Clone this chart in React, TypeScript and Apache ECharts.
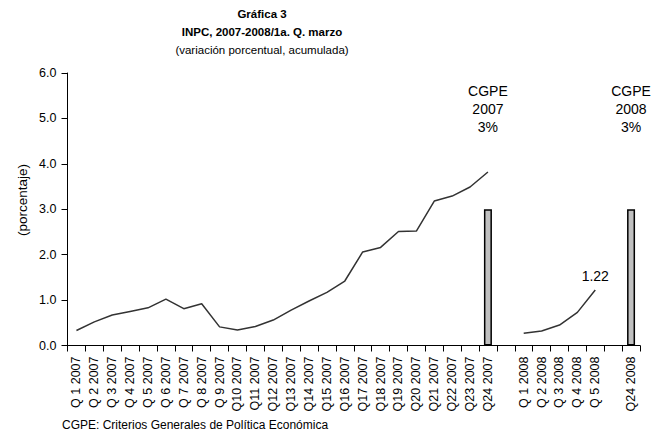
import React, { useEffect, useRef } from "react";
import * as echarts from "echarts";

const categories: string[] = [
  "Q 1 2007", "Q 2 2007", "Q 3 2007", "Q 4 2007", "Q 5 2007", "Q 6 2007",
  "Q 7 2007", "Q 8 2007", "Q 9 2007", "Q10 2007", "Q11 2007", "Q12 2007",
  "Q13 2007", "Q14 2007", "Q15 2007", "Q16 2007", "Q17 2007", "Q18 2007",
  "Q19 2007", "Q20 2007", "Q21 2007", "Q22 2007", "Q23 2007", "Q24 2007",
  "",
  "Q 1 2008", "Q 2 2008", "Q 3 2008", "Q 4 2008", "Q 5 2008",
  "",
  "Q24 2008",
];

const inpc2007: number[] = [
  0.33, 0.52, 0.67, 0.75, 0.83, 1.02, 0.81, 0.92, 0.41, 0.34, 0.42, 0.56,
  0.78, 0.98, 1.17, 1.42, 2.06, 2.16, 2.51, 2.52, 3.18, 3.29, 3.49, 3.82,
];

const inpc2008: number[] = [0.27, 0.32, 0.45, 0.73, 1.22];

const cgpeTargets: { category: string; value: number; label: string }[] = [
  { category: "Q24 2007", value: 3, label: "CGPE\n2007\n3%" },
  { category: "Q24 2008", value: 3, label: "CGPE\n2008\n3%" },
];

const yTicks = { min: 0, max: 6, interval: 1 };

const FONT = "'Liberation Sans', Arial, sans-serif";

export default function App() {
  const ref = useRef<HTMLDivElement>(null);

  useEffect(() => {
    if (!ref.current) return;
    const chart = echarts.init(ref.current, undefined, { renderer: "svg" });

    const idx2008 = categories.indexOf("Q 1 2008");
    const line2007 = categories.map((_, i) => (i < inpc2007.length ? inpc2007[i] : null));
    const line2008 = categories.map((_, i) =>
      i >= idx2008 && i < idx2008 + inpc2008.length ? inpc2008[i - idx2008] : null
    );
    const barData = categories.map((c) => {
      const t = cgpeTargets.find((x) => x.category === c);
      if (!t) return null;
      return {
        value: t.value,
        label: {
          show: true,
          position: "top",
          distance: 73,
          formatter: t.label,
          fontFamily: FONT,
          fontSize: 14,
          lineHeight: 18,
          color: "#000",
          align: "center",
        },
      };
    });
    const last2008 = idx2008 + inpc2008.length - 1;
    const line2008Data = line2008.map((v, i) =>
      i === last2008
        ? {
            value: v,
            label: {
              show: true,
              position: "top",
              distance: 6,
              formatter: (p: any) => Number(p.value).toFixed(2),
              fontFamily: FONT,
              fontSize: 14,
              color: "#000",
            },
          }
        : v
    );

    chart.setOption({
      animation: false,
      backgroundColor: "#fff",
      textStyle: { fontFamily: FONT },
      grid: { left: 67.5, right: 15, top: 73, bottom: 85.5, containLabel: false },
      xAxis: {
        type: "category",
        data: categories,
        boundaryGap: true,
        axisLine: { lineStyle: { color: "#000", width: 1 } },
        axisTick: { show: true, interval: 0, length: 6, lineStyle: { color: "#000" } },
        axisLabel: {
          interval: 0,
          rotate: 90,
          margin: 11,
          fontFamily: FONT,
          fontSize: 12.5,
          color: "#000",
        },
        splitLine: { show: false },
      },
      yAxis: {
        type: "value",
        min: yTicks.min,
        max: yTicks.max,
        interval: yTicks.interval,
        axisLine: { show: true, lineStyle: { color: "#000", width: 1 } },
        axisTick: { show: true, length: 6, lineStyle: { color: "#000" } },
        axisLabel: {
          margin: 11,
          fontFamily: FONT,
          fontSize: 12.5,
          color: "#000",
          formatter: (v: number) => v.toFixed(1),
        },
        splitLine: { show: false },
      },
      series: [
        {
          type: "bar",
          data: barData,
          barWidth: 8,
          itemStyle: { color: "#c0c0c0", borderColor: "#000", borderWidth: 1.5 },
        },
        {
          type: "line",
          data: line2007,
          symbol: "none",
          connectNulls: false,
          lineStyle: { color: "#333", width: 1.5 },
        },
        {
          type: "line",
          data: line2008Data,
          symbol: "circle",
          symbolSize: 2,
          showSymbol: true,
          itemStyle: { color: "rgba(0,0,0,0)", borderWidth: 0 },
          connectNulls: false,
          lineStyle: { color: "#333", width: 1.5 },
        },
      ],
      graphic: [
        {
          type: "text",
          x: 262,
          y: 14,
          style: {
            text: "Gráfica 3",
            fontFamily: FONT,
            fontSize: 11.5,
            fontWeight: "bold",
            fill: "#000",
            align: "center",
            verticalAlign: "middle",
          },
        },
        {
          type: "text",
          x: 262,
          y: 32,
          style: {
            text: "INPC, 2007-2008/1a. Q. marzo",
            fontFamily: FONT,
            fontSize: 11.5,
            fontWeight: "bold",
            fill: "#000",
            align: "center",
            verticalAlign: "middle",
          },
        },
        {
          type: "text",
          x: 262,
          y: 50,
          style: {
            text: "(variación porcentual, acumulada)",
            fontFamily: FONT,
            fontSize: 11.5,
            fill: "#000",
            align: "center",
            verticalAlign: "middle",
          },
        },
        {
          type: "text",
          x: 22,
          y: 200,
          rotation: Math.PI / 2,
          style: {
            text: "(porcentaje)",
            fontFamily: FONT,
            fontSize: 13.5,
            fill: "#000",
            align: "center",
            verticalAlign: "middle",
          },
        },
        {
          type: "text",
          x: 62,
          y: 431,
          style: {
            text: "CGPE: Criterios Generales de Política Económica",
            fontFamily: FONT,
            fontSize: 12,
            fill: "#000",
            align: "left",
            verticalAlign: "bottom",
          },
        },
      ],
    });

    return () => chart.dispose();
  }, []);

  return (
    <div
      ref={ref}
      style={{ position: "fixed", left: 0, top: 0, width: 655, height: 431 }}
    />
  );
}
